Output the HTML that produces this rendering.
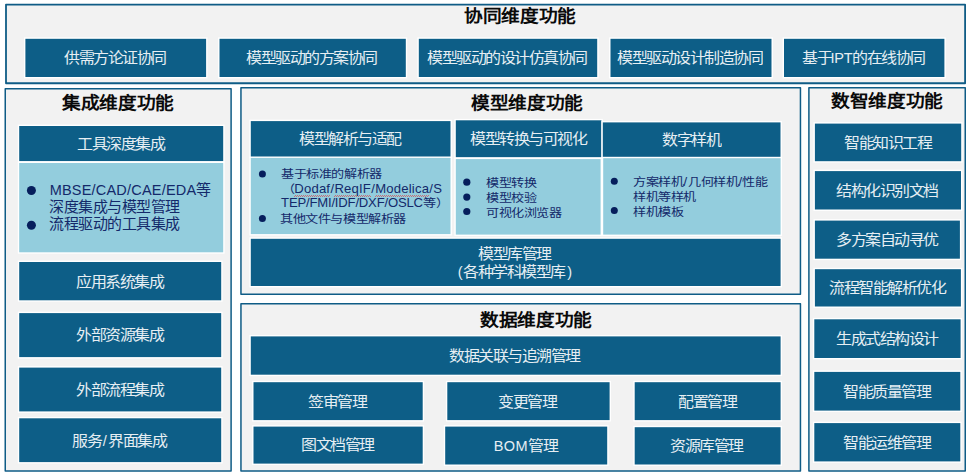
<!DOCTYPE html>
<html lang="zh-CN"><head><meta charset="utf-8"><title>功能架构</title>
<style>
html,body{margin:0;padding:0;background:#fff;overflow:hidden}
body{width:970px;height:475px;position:relative;overflow:hidden;font-family:"Liberation Sans",sans-serif}
svg{position:absolute;left:0;top:0}
.c{fill:#f2f2f2;stroke:#0f5c86;stroke-width:1.5;stroke-linejoin:round}
.k{fill:#0d5e87;stroke:#fff;stroke-width:2.8;paint-order:stroke}
.q{fill:#93cddd;stroke:#fff;stroke-width:2.8;paint-order:stroke}
.u{fill:#061e5c}
.b{position:absolute;display:flex;align-items:center;justify-content:center;text-align:center;color:#e6eef3}
.w{position:relative;left:-1px}
.dl{height:18px;line-height:18px;white-space:nowrap}
.pl{margin-right:1px}.pr{margin-left:2.5px}
.cj{display:inline-block;transform-origin:0 50%}
.t{position:absolute;width:140px;height:28px;line-height:28px;text-align:center;font-weight:bold;font-size:17px;letter-spacing:0px;color:#0a0a0a;white-space:nowrap}
.t span{display:inline-block;transform:scale(1.1,1.0176)}
.ln{position:absolute;color:#14296a;white-space:nowrap;height:20px;line-height:20px}
u{text-decoration:none;padding-bottom:0.9px;background:linear-gradient(90deg,rgba(228,52,52,.62) 50%,transparent 50%) 0 calc(100% - 0.2px)/2px 1px repeat-x,linear-gradient(90deg,transparent 50%,rgba(228,52,52,.62) 50%) 0 calc(100% - 1.2px)/2px 1px repeat-x}
</style></head><body>
<svg width="970" height="475" viewBox="0 0 970 475">
<rect class="c" x="6" y="4.6" width="959.1" height="78.65" style="stroke-width:1.8"/>
<rect class="c" x="5.25" y="88.75" width="225.85" height="382.35"/>
<rect class="c" x="240.95" y="87.75" width="559.5" height="206.4"/>
<rect class="c" x="240.95" y="303.65" width="559.5" height="167.45"/>
<rect class="c" x="808.9" y="87.75" width="156.35" height="383.35"/>
<rect class="k" x="25.4" y="38.8" width="180.7" height="38.2"/>
<rect class="k" x="219.5" y="38.8" width="186.3" height="38.2"/>
<rect class="k" x="418.8" y="38.8" width="178.4" height="38.2"/>
<rect class="k" x="610.5" y="38.8" width="161" height="38.2"/>
<rect class="k" x="784" y="38.8" width="160.4" height="38.2"/>
<rect class="k" x="19.2" y="126" width="204" height="35.1"/>
<rect class="q" x="19.2" y="163" width="204" height="89.3"/>
<rect class="k" x="19.2" y="262" width="202" height="38.3"/>
<rect class="k" x="19.2" y="313.1" width="202" height="44"/>
<rect class="k" x="19.2" y="367.6" width="202" height="43.8"/>
<rect class="k" x="19.2" y="418.3" width="202" height="43.8"/>
<circle class="u" cx="31.4" cy="190.5" r="4.5"/>
<circle class="u" cx="31.4" cy="225.3" r="4.5"/>
<rect class="k" x="250.8" y="121.1" width="199.7" height="35.9"/>
<rect class="k" x="455.8" y="120.3" width="145.6" height="36.9"/>
<rect class="k" x="602.8" y="122.4" width="177.7" height="34.6"/>
<rect class="q" x="250.8" y="157.9" width="199.7" height="76.2"/>
<rect class="q" x="455.8" y="159.1" width="144.8" height="75.5"/>
<rect class="q" x="603.2" y="158.2" width="177.4" height="76.4"/>
<rect class="k" x="250.8" y="238.8" width="529.8" height="47.2"/>
<circle class="u" cx="262.4" cy="174" r="3.5"/>
<circle class="u" cx="262.4" cy="218.6" r="3.5"/>
<circle class="u" cx="466.8" cy="182.2" r="3.6"/>
<circle class="u" cx="466.8" cy="197.1" r="3.6"/>
<circle class="u" cx="466.8" cy="211.5" r="3.6"/>
<circle class="u" cx="614.3" cy="181.3" r="3.5"/>
<circle class="u" cx="614.3" cy="210.6" r="3.5"/>
<rect class="k" x="250.8" y="336.4" width="529.8" height="38.3"/>
<rect class="k" x="253.5" y="382.2" width="169.2" height="37.9"/>
<rect class="k" x="447.3" y="382.2" width="162.3" height="37.9"/>
<rect class="k" x="634.7" y="382.2" width="145.9" height="37.9"/>
<rect class="k" x="253.5" y="426.6" width="169.2" height="37"/>
<rect class="k" x="445.2" y="426.6" width="162" height="37.9"/>
<rect class="k" x="634.7" y="427.2" width="145.9" height="37.3"/>
<rect class="k" x="814.9" y="123.6" width="146.3" height="37.6"/>
<rect class="k" x="814.9" y="171.1" width="146.1" height="38.4"/>
<rect class="k" x="814.9" y="220.6" width="145" height="38.1"/>
<rect class="k" x="814.9" y="269.2" width="146" height="37.3"/>
<rect class="k" x="814.3" y="319.3" width="146.3" height="38.7"/>
<rect class="k" x="814.3" y="371.9" width="146" height="38.7"/>
<rect class="k" x="814.3" y="423.1" width="146" height="38.3"/>
</svg>
<div class="t" style="left:450.3px;top:2.5px"><span>协同维度功能</span></div>
<div class="t" style="left:47.5px;top:89.5px"><span>集成维度功能</span></div>
<div class="t" style="left:457.1px;top:89.9px"><span>模型维度功能</span></div>
<div class="t" style="left:466.3px;top:306.7px"><span>数据维度功能</span></div>
<div class="t" style="left:817.3px;top:88.4px"><span>数智维度功能</span></div>
<div class="b" style="left:25.4px;top:38.8px;width:180.7px;height:38.2px"><div class="w" style="top:0.4px"><div class="dl"><span class="cj" style="font-size:15px;letter-spacing:-1.39px;transform:scale(1.0656,0.9867);margin-right:6.25px">供需方论证协同</span></div></div></div>
<div class="b" style="left:219.5px;top:38.8px;width:186.3px;height:38.2px"><div class="w" style="top:0.4px"><div class="dl"><span class="cj" style="font-size:15px;letter-spacing:-1.39px;transform:scale(1.0656,0.9867);margin-right:8.03px">模型驱动的方案协同</span></div></div></div>
<div class="b" style="left:418.8px;top:38.8px;width:178.4px;height:38.2px"><div class="w" style="top:0.4px"><div class="dl"><span class="cj" style="font-size:15px;letter-spacing:-1.39px;transform:scale(1.0656,0.9867);margin-right:9.82px">模型驱动的设计仿真协同</span></div></div></div>
<div class="b" style="left:610.5px;top:38.8px;width:161px;height:38.2px"><div class="w" style="top:0.4px"><div class="dl"><span class="cj" style="font-size:15px;letter-spacing:-1.39px;transform:scale(1.0656,0.9867);margin-right:8.93px">模型驱动设计制造协同</span></div></div></div>
<div class="b" style="left:784px;top:38.8px;width:160.4px;height:38.2px"><div class="w" style="top:0.4px"><div class="dl"><span class="cj" style="font-size:15px;letter-spacing:-1.39px;transform:scale(1.0656,0.9867);margin-right:1.79px">基于</span><span style="font-size:14.5px;letter-spacing:-0.3px">IPT</span><span class="cj" style="font-size:15px;letter-spacing:-1.39px;transform:scale(1.0656,0.9867);margin-right:4.46px">的在线协同</span></div></div></div>
<div class="b" style="left:19.2px;top:126px;width:204px;height:35.1px"><div class="w" style="top:0.4px"><div class="dl"><span class="cj" style="font-size:15px;letter-spacing:-1.39px;transform:scale(1.0656,0.9867);margin-right:5.36px">工具深度集成</span></div></div></div>
<div class="b" style="left:19.2px;top:262px;width:202px;height:38.3px"><div class="w" style="top:0.4px"><div class="dl"><span class="cj" style="font-size:15px;letter-spacing:-1.39px;transform:scale(1.0656,0.9867);margin-right:5.36px">应用系统集成</span></div></div></div>
<div class="b" style="left:19.2px;top:313.1px;width:202px;height:44px"><div class="w" style="top:0.4px"><div class="dl"><span class="cj" style="font-size:15px;letter-spacing:-1.39px;transform:scale(1.0656,0.9867);margin-right:5.36px">外部资源集成</span></div></div></div>
<div class="b" style="left:19.2px;top:367.6px;width:202px;height:43.8px"><div class="w" style="top:0.4px"><div class="dl"><span class="cj" style="font-size:15px;letter-spacing:-1.39px;transform:scale(1.0656,0.9867);margin-right:5.36px">外部流程集成</span></div></div></div>
<div class="b" style="left:19.2px;top:418.3px;width:202px;height:43.8px"><div class="w" style="top:0.4px"><div class="dl"><span class="cj" style="font-size:15px;letter-spacing:-1.39px;transform:scale(1.0656,0.9867);margin-right:1.79px">服务</span><span style="font-size:14.5px;letter-spacing:1.4px;margin-left:1.4px">/</span><span class="cj" style="font-size:15px;letter-spacing:-1.39px;transform:scale(1.0656,0.9867);margin-right:3.57px">界面集成</span></div></div></div>
<div class="ln" style="left:49.7px;top:179.8px"><span style="font-size:14.5px;letter-spacing:0.2px">MBSE/CAD/CAE/EDA</span><span class="cj" style="font-size:14px;letter-spacing:-0.44px;transform:scale(1.0697,1.0286);margin-right:0.94px">等</span></div>
<div class="ln" style="left:48.5px;top:197.4px"><span class="cj" style="font-size:14px;letter-spacing:-0.44px;transform:scale(1.0697,1.0286);margin-right:8.50px">深度集成与模型管理</span></div>
<div class="ln" style="left:48.5px;top:214.4px"><span class="cj" style="font-size:14px;letter-spacing:-0.44px;transform:scale(1.0697,1.0286);margin-right:8.50px">流程驱动的工具集成</span></div>
<div class="b" style="left:250.8px;top:121.1px;width:199.7px;height:35.9px"><div class="w" style="top:0px"><div class="dl"><span class="cj" style="font-size:15px;letter-spacing:-1.39px;transform:scale(1.0656,0.9867);margin-right:6.25px">模型解析与适配</span></div></div></div>
<div class="b" style="left:455.8px;top:120.3px;width:145.6px;height:36.9px"><div class="w" style="top:-0.2px"><div class="dl"><span class="cj" style="font-size:15px;letter-spacing:-1.39px;transform:scale(1.0656,0.9867);margin-right:7.14px">模型转换与可视化</span></div></div></div>
<div class="b" style="left:602.8px;top:122.4px;width:177.7px;height:34.6px"><div class="w" style="top:0px"><div class="dl"><span class="cj" style="font-size:15px;letter-spacing:-1.39px;transform:scale(1.0656,0.9867);margin-right:3.57px">数字样机</span></div></div></div>
<div class="b" style="left:250.8px;top:238.8px;width:529.8px;height:47.2px"><div class="w" style="top:0.9px"><div class="dl"><span class="cj" style="font-size:15px;letter-spacing:-1.39px;transform:scale(1.0656,0.9867);margin-right:4.46px">模型库管理</span></div><div class="dl"><span class="pl"><span style="font-size:14.5px;letter-spacing:-0.3px">(</span></span><span class="cj" style="font-size:15px;letter-spacing:-1.39px;transform:scale(1.0656,0.9867);margin-right:6.25px">各种学科模型库</span><span class="pr"><span style="font-size:14.5px;letter-spacing:-0.3px">)</span></span></div></div></div>
<div class="ln" style="left:280.7px;top:163.1px"><span class="cj" style="font-size:11px;letter-spacing:-0.42px;transform:scale(1.1913,1.0182);margin-right:16.18px">基于标准的解析器</span></div>
<div class="ln" style="left:281.5px;top:177.9px"><span class="cj" style="font-size:11px;letter-spacing:-0.42px;transform:scale(1.1913,1.0182);margin-right:2.02px">（</span><u><span style="font-size:13.1px;letter-spacing:0.19px;margin-left:0.19px">Dodaf</span></u><span style="font-size:13.1px;letter-spacing:0.19px;margin-left:0.19px">/</span><u><span style="font-size:13.1px;letter-spacing:0.19px;margin-left:0.19px">ReqIF</span></u><span style="font-size:13.1px;letter-spacing:0.19px;margin-left:0.19px">/</span><u><span style="font-size:13.1px;letter-spacing:0.19px;margin-left:0.19px">Modelica</span></u><span style="font-size:13.1px;letter-spacing:0.19px;margin-left:0.19px">/S</span></div>
<div class="ln" style="left:281.3px;top:192.3px"><span style="font-size:13.1px;letter-spacing:-0.19px;margin-left:-0.19px">TEP/FMI/IDF/DXF/OSLC</span><span class="cj" style="font-size:11px;letter-spacing:-0.42px;transform:scale(1.1913,1.0182);margin-right:4.05px">等）</span></div>
<div class="ln" style="left:280.3px;top:208.2px"><span class="cj" style="font-size:11px;letter-spacing:-0.42px;transform:scale(1.1913,1.0182);margin-right:20.23px">其他文件与模型解析器</span></div>
<div class="ln" style="left:485.6px;top:172.2px"><span class="cj" style="font-size:11px;letter-spacing:-0.42px;transform:scale(1.1913,1.0182);margin-right:8.09px">模型转换</span></div>
<div class="ln" style="left:485.6px;top:187.1px"><span class="cj" style="font-size:11px;letter-spacing:-0.42px;transform:scale(1.1913,1.0182);margin-right:8.09px">模型校验</span></div>
<div class="ln" style="left:485.6px;top:201.5px"><span class="cj" style="font-size:11px;letter-spacing:-0.42px;transform:scale(1.1913,1.0182);margin-right:12.14px">可视化浏览器</span></div>
<div class="ln" style="left:632.6px;top:171.3px"><span class="cj" style="font-size:11px;letter-spacing:-0.42px;transform:scale(1.1913,1.0182);margin-right:8.09px">方案样机</span><span style="font-size:13.1px;letter-spacing:0.45px;margin-left:0.45px">/</span><span class="cj" style="font-size:11px;letter-spacing:-0.42px;transform:scale(1.1913,1.0182);margin-right:8.09px">几何样机</span><span style="font-size:13.1px;letter-spacing:0.45px;margin-left:0.45px">/</span><span class="cj" style="font-size:11px;letter-spacing:-0.42px;transform:scale(1.1913,1.0182);margin-right:4.05px">性能</span></div>
<div class="ln" style="left:632.6px;top:186.2px"><span class="cj" style="font-size:11px;letter-spacing:-0.42px;transform:scale(1.1913,1.0182);margin-right:10.12px">样机等样机</span></div>
<div class="ln" style="left:632.6px;top:200.6px"><span class="cj" style="font-size:11px;letter-spacing:-0.42px;transform:scale(1.1913,1.0182);margin-right:8.09px">样机模板</span></div>
<div class="b" style="left:250.8px;top:336.4px;width:529.8px;height:38.3px"><div class="w" style="top:0.4px"><div class="dl"><span class="cj" style="font-size:15px;letter-spacing:-1.39px;transform:scale(1.0656,0.9867);margin-right:8.03px">数据关联与追溯管理</span></div></div></div>
<div class="b" style="left:253.5px;top:382.2px;width:169.2px;height:37.9px"><div class="w" style="top:0.4px"><div class="dl"><span class="cj" style="font-size:15px;letter-spacing:-1.39px;transform:scale(1.0656,0.9867);margin-right:3.57px">签审管理</span></div></div></div>
<div class="b" style="left:447.3px;top:382.2px;width:162.3px;height:37.9px"><div class="w" style="top:0.4px"><div class="dl"><span class="cj" style="font-size:15px;letter-spacing:-1.39px;transform:scale(1.0656,0.9867);margin-right:3.57px">变更管理</span></div></div></div>
<div class="b" style="left:634.7px;top:382.2px;width:145.9px;height:37.9px"><div class="w" style="top:0.4px"><div class="dl"><span class="cj" style="font-size:15px;letter-spacing:-1.39px;transform:scale(1.0656,0.9867);margin-right:3.57px">配置管理</span></div></div></div>
<div class="b" style="left:253.5px;top:426.6px;width:169.2px;height:37px"><div class="w" style="top:0.4px"><div class="dl"><span class="cj" style="font-size:15px;letter-spacing:-1.39px;transform:scale(1.0656,0.9867);margin-right:4.46px">图文档管理</span></div></div></div>
<div class="b" style="left:445.2px;top:426.6px;width:162px;height:37.9px"><div class="w" style="top:0.4px"><div class="dl"><span style="font-size:14.5px;letter-spacing:0.5px;margin-left:0.5px">BOM</span><span class="cj" style="font-size:15px;letter-spacing:-1.39px;transform:scale(1.0656,0.9867);margin-right:1.79px">管理</span></div></div></div>
<div class="b" style="left:634.7px;top:427.2px;width:145.9px;height:37.3px"><div class="w" style="top:0.4px"><div class="dl"><span class="cj" style="font-size:15px;letter-spacing:-1.39px;transform:scale(1.0656,0.9867);margin-right:4.46px">资源库管理</span></div></div></div>
<div class="b" style="left:814.9px;top:123.6px;width:146.3px;height:37.6px"><div class="w" style="top:0.4px"><div class="dl"><span class="cj" style="font-size:15px;letter-spacing:-1.39px;transform:scale(1.0656,0.9867);margin-right:5.36px">智能知识工程</span></div></div></div>
<div class="b" style="left:814.9px;top:171.1px;width:146.1px;height:38.4px"><div class="w" style="top:0.4px"><div class="dl"><span class="cj" style="font-size:15px;letter-spacing:-1.39px;transform:scale(1.0656,0.9867);margin-right:6.25px">结构化识别文档</span></div></div></div>
<div class="b" style="left:814.9px;top:220.6px;width:145px;height:38.1px"><div class="w" style="top:0.4px"><div class="dl"><span class="cj" style="font-size:15px;letter-spacing:-1.39px;transform:scale(1.0656,0.9867);margin-right:6.25px">多方案自动寻优</span></div></div></div>
<div class="b" style="left:814.9px;top:269.2px;width:146px;height:37.3px"><div class="w" style="top:0.4px"><div class="dl"><span class="cj" style="font-size:15px;letter-spacing:-1.39px;transform:scale(1.0656,0.9867);margin-right:7.14px">流程智能解析优化</span></div></div></div>
<div class="b" style="left:814.3px;top:319.3px;width:146.3px;height:38.7px"><div class="w" style="top:0.4px"><div class="dl"><span class="cj" style="font-size:15px;letter-spacing:-1.39px;transform:scale(1.0656,0.9867);margin-right:6.25px">生成式结构设计</span></div></div></div>
<div class="b" style="left:814.3px;top:371.9px;width:146px;height:38.7px"><div class="w" style="top:0.4px"><div class="dl"><span class="cj" style="font-size:15px;letter-spacing:-1.39px;transform:scale(1.0656,0.9867);margin-right:5.36px">智能质量管理</span></div></div></div>
<div class="b" style="left:814.3px;top:423.1px;width:146px;height:38.3px"><div class="w" style="top:0.4px"><div class="dl"><span class="cj" style="font-size:15px;letter-spacing:-1.39px;transform:scale(1.0656,0.9867);margin-right:5.36px">智能运维管理</span></div></div></div>
</body></html>
